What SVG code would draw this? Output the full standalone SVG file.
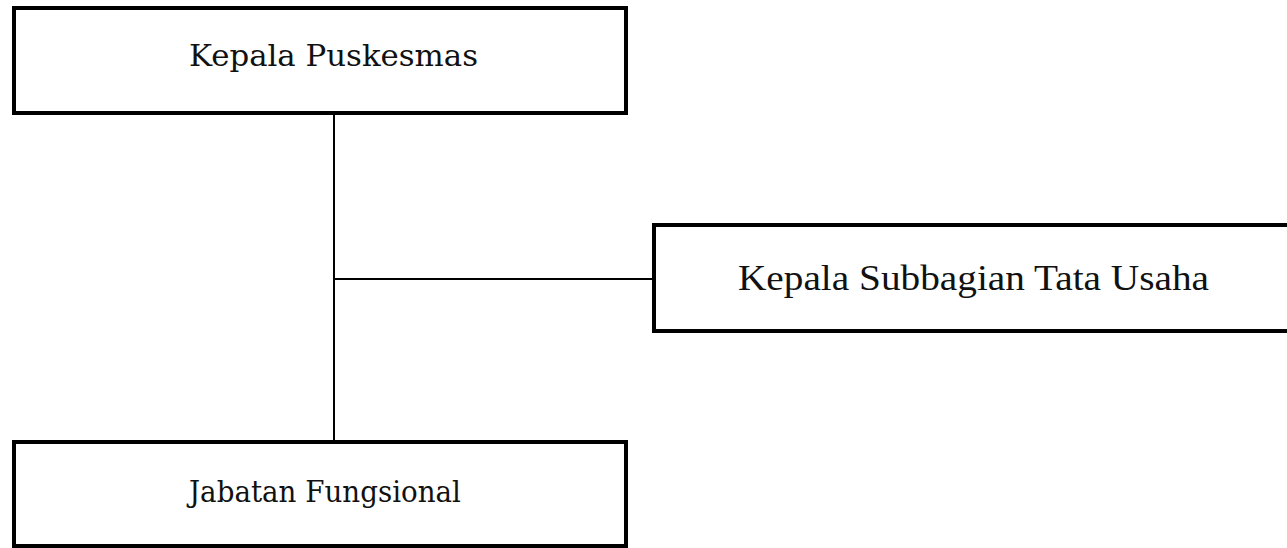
<svg xmlns="http://www.w3.org/2000/svg" width="1287" height="548" viewBox="0 0 1287 548">
  <style>
    .box { fill: #ffffff; stroke: #000000; stroke-width: 4; }
    .label { font-family: "DejaVu Serif", "Liberation Serif", serif; font-size: 29px; fill: #111111; }
    .label-alt { font-family: "Liberation Serif", "DejaVu Serif", serif; font-size: 35px; fill: #111111; }
    .wire { stroke: #000000; stroke-width: 2; fill: none; }
  </style>
  <rect width="1287" height="548" fill="#ffffff"/>

  <g id="connectors">
    <line class="wire" x1="334" y1="113" x2="334" y2="442"/>
    <line class="wire" x1="334" y1="279" x2="654" y2="279"/>
  </g>

  <g id="kepala-puskesmas">
    <rect class="box" x="14" y="8" width="612" height="105"/>
    <text class="label" x="189" y="66" textLength="289" lengthAdjust="spacingAndGlyphs">Kepala Puskesmas</text>
  </g>

  <g id="kepala-subbagian-tata-usaha">
    <rect class="box" x="654" y="225" width="640" height="106"/>
    <text class="label-alt" x="738" y="290" textLength="471" lengthAdjust="spacingAndGlyphs">Kepala Subbagian Tata Usaha</text>
  </g>

  <g id="jabatan-fungsional">
    <rect class="box" x="14" y="442" width="612" height="104"/>
    <text class="label" x="189" y="502" textLength="272" lengthAdjust="spacingAndGlyphs">Jabatan Fungsional</text>
  </g>
</svg>
